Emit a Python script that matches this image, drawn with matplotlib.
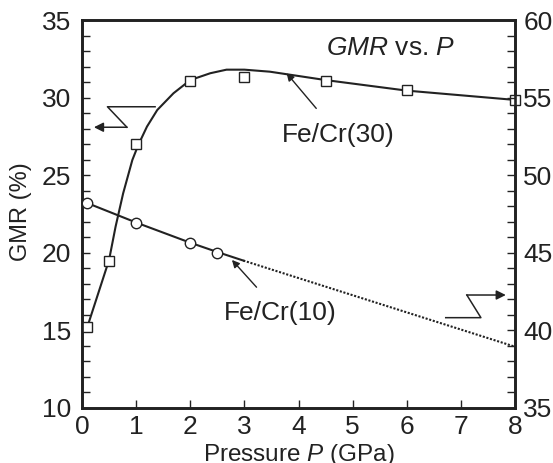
import numpy as np
import matplotlib
matplotlib.use("Agg")
import matplotlib.pyplot as plt

# Fe/Cr(30) -> left axis (GMR %)
p30 = [0.1, 0.5, 1.0, 2.0, 3.0, 4.5, 6.0, 8.0]
gmr30 = [15.2, 19.5, 27.0, 31.1, 31.3, 31.1, 30.5, 29.85]
# curve through the Fe/Cr(30) points
p30_curve = [0.1, 0.3, 0.5, 0.62, 0.76, 0.93, 1.04, 1.2, 1.39, 1.69, 2.0,
             2.37, 2.67, 3.0, 3.47, 4.5, 6.0, 8.0]
gmr30_curve = [15.24, 17.39, 19.54, 21.68, 23.83, 25.98, 26.95, 28.13, 29.2,
               30.28, 31.13, 31.57, 31.8, 31.8, 31.67, 31.13, 30.45, 29.85]

# Fe/Cr(10) -> right axis
p10 = [0.1, 1.0, 2.0, 2.5]
gmr10 = [48.2, 46.9, 45.6, 45.0]
p10_line = [0.1, 1.0, 2.0, 2.5, 2.98]
gmr10_line = [48.2, 46.95, 45.65, 45.05, 44.5]
p10_extra = [2.98, 8.0]
gmr10_extra = [44.5, 38.95]

plt.rcParams["font.family"] = ["Liberation Sans", "DejaVu Sans"]
plt.rcParams["mathtext.fontset"] = "custom"
plt.rcParams["mathtext.rm"] = "Liberation Sans"
plt.rcParams["mathtext.it"] = "Liberation Sans:italic"
fs = 19
ink = "#222222"

fig = plt.figure(figsize=(5.53, 4.63), dpi=100)
ax = fig.add_axes([0.1483, 0.1188, 0.7830, 0.8380])
ax2 = ax.twinx()

ax.plot(p30_curve, gmr30_curve, color=ink, lw=1.5, zorder=2)
ax.plot(p30, gmr30, ls="none", marker="s", ms=7.5, mfc="white", mec=ink,
        mew=1.0, clip_on=False, zorder=3)

ax2.plot(p10_line, gmr10_line, color=ink, lw=1.5, zorder=2)
ax2.plot(p10_extra, gmr10_extra, color=ink, lw=1.5, ls=(0, (1, 0.8)), zorder=2)
ax2.plot(p10, gmr10, ls="none", marker="o", ms=7.5, mfc="white", mec=ink,
         mew=1.0, clip_on=False, zorder=3)

ax.set_xlim(0, 8)
ax.set_ylim(10, 35)
ax2.set_ylim(35, 60)
ax.set_xticks(range(0, 9))
ax.set_yticks([10, 15, 20, 25, 30, 35])
ax.set_yticks(range(10, 36), minor=True)
ax2.set_yticks([35, 40, 45, 50, 55, 60])
ax2.set_yticks(range(35, 61), minor=True)

for a in (ax, ax2):
    for s in a.spines.values():
        s.set_linewidth(1.9)
        s.set_color(ink)
    a.tick_params(which="both", direction="in", length=6, width=1.0,
                  color=ink, labelcolor=ink, labelsize=fs)
ax.tick_params(axis="y", pad=8)
ax.tick_params(axis="x", pad=5)
ax2.tick_params(axis="y", pad=6)

ax.set_xlabel("Pressure $\\it{P}$ (GPa)", fontsize=17.5, color=ink, labelpad=2)
ax.set_ylabel("GMR (%)", fontsize=17, color=ink)
ax.yaxis.set_label_coords(-0.115, 0.505)

ax.text(5.7, 33.2, "$\\it{GMR}$ vs. $\\it{P}$", fontsize=fs, color=ink,
        ha="center", va="center")

# Z-shaped axis pointers
ax.plot([1.35, 0.47, 0.83], [29.41, 29.41, 28.09], color=ink, lw=1.1)
ax.annotate("", xy=(0.22, 28.09), xytext=(0.83, 28.09),
            arrowprops=dict(arrowstyle="-|>", color=ink, lw=1.1,
                            mutation_scale=14, shrinkA=0, shrinkB=0))
ax2.plot([6.72, 7.37, 7.11], [40.82, 40.82, 42.28], color=ink, lw=1.1)
ax2.annotate("", xy=(7.83, 42.28), xytext=(7.11, 42.28),
             arrowprops=dict(arrowstyle="-|>", color=ink, lw=1.1,
                             mutation_scale=14, shrinkA=0, shrinkB=0))

# curve labels
ax.annotate("Fe/Cr(30)", xy=(3.78, 31.57), xytext=(4.74, 27.6),
            fontsize=fs, color=ink, ha="center", va="center",
            arrowprops=dict(arrowstyle="-|>", color=ink, lw=1.0,
                            mutation_scale=11, shrinkA=11, shrinkB=0))
ax.annotate("Fe/Cr(10)", xy=(2.77, 19.54), xytext=(3.66, 16.1),
            fontsize=fs, color=ink, ha="center", va="center",
            arrowprops=dict(arrowstyle="-|>", color=ink, lw=1.0,
                            mutation_scale=11, shrinkA=11, shrinkB=0))

fig.savefig("out.png", dpi=100)
